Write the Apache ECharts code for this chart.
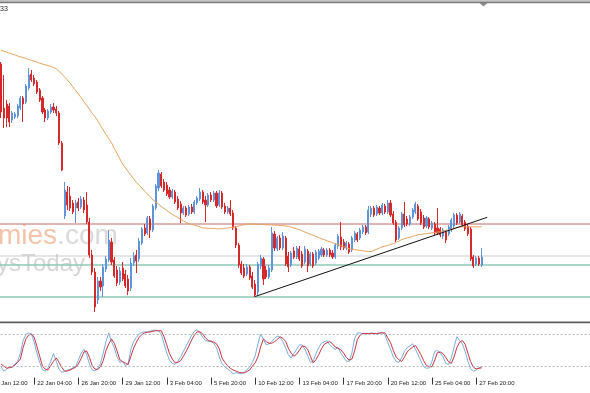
<!DOCTYPE html>
<html><head><meta charset="utf-8">
<script src="https://cdn.jsdelivr.net/npm/echarts@6/dist/echarts.min.js"></script>
<style>html,body{margin:0;padding:0;background:#fff}#c{width:590px;height:393px}</style>
</head><body><div id="c"></div>
<script>
// Tick labels every 16 H4 bars (first one is just off the left edge)
const tickLabels = ['19 Jan 12:00','22 Jan 04:00','26 Jan 20:00','29 Jan 12:00','3 Feb 04:00','5 Feb 20:00',
  '10 Feb 12:00','13 Feb 04:00','17 Feb 20:00','20 Feb 12:00','25 Feb 04:00','27 Feb 20:00'];

// H4 candles: [open, close, low, high]
const candles = [
[1.16900,1.15700,1.15550,1.16950],[1.15800,1.15550,1.15300,1.16625],[1.15900,1.15550,1.15325,1.16000],[1.15850,1.15450,1.15325,1.15925],
[1.15500,1.15675,1.15425,1.15725],[1.15575,1.15650,1.15525,1.15700],[1.15600,1.15850,1.15550,1.15900],[1.15800,1.16050,1.15750,1.16100],
[1.16050,1.15900,1.15450,1.16100],[1.15950,1.16350,1.15900,1.16400],[1.16300,1.16625,1.16250,1.16800],[1.16650,1.16500,1.16450,1.16750],
[1.16550,1.16400,1.16350,1.16625],[1.16450,1.16200,1.16150,1.16500],[1.16250,1.16000,1.15950,1.16300],[1.16050,1.15700,1.15650,1.16100],
[1.15750,1.15550,1.15450,1.15800],[1.15550,1.15725,1.15500,1.15775],[1.15700,1.15825,1.15650,1.15900],[1.15825,1.15750,1.15675,1.15925],
[1.15775,1.15675,1.15600,1.15850],[1.15675,1.14925,1.14875,1.15725],[1.14925,1.14250,1.14225,1.14975],[1.13100,1.13750,1.13025,1.13950],
[1.13700,1.13375,1.13250,1.13850],[1.13600,1.13300,1.13225,1.13825],[1.13425,1.13200,1.13150,1.13500],[1.13300,1.13425,1.12925,1.13500],
[1.13450,1.13300,1.13225,1.13550],[1.13325,1.13525,1.13275,1.13600],[1.13500,1.13250,1.13175,1.13575],[1.13375,1.12950,1.12900,1.13700],
[1.12950,1.12125,1.12050,1.13050],[1.12125,1.11700,1.11625,1.12250],[1.11700,1.10825,1.10700,1.11800],[1.11000,1.11475,1.10900,1.11575],
[1.11475,1.11325,1.11225,1.11575],[1.11350,1.11825,1.11075,1.11900],[1.11775,1.12025,1.11700,1.12100],[1.12000,1.12500,1.11950,1.12750],
[1.12450,1.11950,1.11875,1.12550],[1.12000,1.11600,1.11550,1.12075],[1.11750,1.11425,1.11350,1.11850],[1.11450,1.11725,1.11375,1.11825],
[1.11800,1.11525,1.11475,1.11950],[1.11650,1.11350,1.11300,1.11750],[1.11525,1.11225,1.11125,1.11625],[1.11300,1.11925,1.11225,1.12050],
[1.11925,1.12100,1.11850,1.12200],[1.12125,1.11975,1.11675,1.12250],[1.12025,1.12475,1.11950,1.12550],[1.12425,1.12775,1.12375,1.12825],
[1.12800,1.12650,1.12600,1.12900],[1.12675,1.13050,1.12625,1.13100],[1.13025,1.12750,1.12550,1.13100],[1.12750,1.13350,1.12700,1.13400],
[1.13300,1.13850,1.13250,1.13900],[1.13800,1.14175,1.13725,1.14250],[1.14150,1.13850,1.13800,1.14200],[1.13950,1.13750,1.13700,1.14025],
[1.13875,1.13650,1.13600,1.13950],[1.13750,1.13575,1.13525,1.13825],[1.13575,1.13725,1.13525,1.13775],[1.13700,1.13450,1.13400,1.13750],
[1.13525,1.13300,1.13250,1.13600],[1.13400,1.13175,1.12925,1.13475],[1.13175,1.13300,1.13125,1.13350],[1.13300,1.13125,1.13075,1.13350],
[1.13150,1.13325,1.13100,1.13375],[1.13325,1.13200,1.13150,1.13400],[1.13200,1.13450,1.13150,1.13500],[1.13425,1.13550,1.13375,1.13600],
[1.13525,1.13700,1.13475,1.13800],[1.13700,1.13450,1.13400,1.13750],[1.13500,1.13375,1.12950,1.13600],[1.13375,1.13625,1.13325,1.13675],
[1.13625,1.13500,1.13450,1.13700],[1.13500,1.13675,1.13450,1.13725],[1.13675,1.13350,1.13300,1.13725],[1.13375,1.13675,1.13325,1.13750],
[1.13675,1.13325,1.13275,1.13725],[1.13350,1.13200,1.13150,1.13425],[1.13200,1.13300,1.13150,1.13350],[1.13300,1.13150,1.13100,1.13500],
[1.13175,1.12800,1.12750,1.13250],[1.12800,1.12375,1.12300,1.12850],[1.12375,1.11875,1.11800,1.12425],[1.11900,1.11675,1.11625,1.11975],
[1.11800,1.11600,1.11550,1.11900],[1.11650,1.11825,1.11600,1.11900],[1.11825,1.11550,1.11500,1.11875],[1.11600,1.11325,1.11275,1.11700],
[1.11400,1.11125,1.11075,1.11500],[1.11200,1.11900,1.11125,1.11950],[1.11850,1.12050,1.11775,1.12125],[1.12025,1.11525,1.11375,1.12075],
[1.11750,1.11575,1.11525,1.11850],[1.11575,1.11800,1.11525,1.11875],[1.11750,1.12675,1.11700,1.12825],[1.12650,1.12300,1.12225,1.12725],
[1.12275,1.12550,1.12225,1.12600],[1.12550,1.12300,1.12250,1.12625],[1.12300,1.12600,1.12250,1.12700],[1.12550,1.11900,1.11850,1.12600],
[1.12100,1.11825,1.11700,1.12200],[1.11875,1.12175,1.11825,1.12225],[1.12225,1.12075,1.12025,1.12325],[1.12075,1.12300,1.12025,1.12350],
[1.12275,1.12025,1.11975,1.12350],[1.12150,1.11850,1.11800,1.12225],[1.11950,1.12275,1.11900,1.12350],[1.12225,1.11850,1.11700,1.12275],
[1.11900,1.12150,1.11850,1.12200],[1.12150,1.11850,1.11800,1.12200],[1.11925,1.12200,1.11875,1.12250],[1.12050,1.12225,1.12000,1.12275],
[1.12125,1.12275,1.12075,1.12325],[1.12250,1.12125,1.12075,1.12300],[1.12125,1.12250,1.12075,1.12300],[1.12250,1.12125,1.12075,1.12300],
[1.12175,1.12075,1.12025,1.12250],[1.12075,1.12375,1.12025,1.12425],[1.12350,1.12600,1.12275,1.12650],[1.12575,1.12325,1.12250,1.12950],
[1.12450,1.12300,1.12250,1.12525],[1.12300,1.12425,1.12250,1.12475],[1.12400,1.12200,1.12150,1.12450],[1.12250,1.12550,1.12200,1.12600],
[1.12500,1.12675,1.12450,1.12725],[1.12650,1.12500,1.12450,1.12700],[1.12550,1.12750,1.12500,1.12800],[1.12700,1.12825,1.12650,1.12875],
[1.12825,1.12675,1.12625,1.12875],[1.12700,1.13250,1.12650,1.13350],[1.13150,1.13300,1.13075,1.13350],[1.13300,1.13125,1.13075,1.13350],
[1.13150,1.13325,1.13100,1.13375],[1.13300,1.13175,1.13125,1.13350],[1.13175,1.13375,1.13125,1.13425],[1.13350,1.13200,1.13150,1.13400],
[1.13200,1.13425,1.13150,1.13500],[1.13425,1.13125,1.13075,1.13500],[1.13150,1.12925,1.12875,1.13225],[1.12950,1.12500,1.12450,1.13000],
[1.12550,1.12800,1.12500,1.12850],[1.12800,1.13150,1.12750,1.13200],[1.13150,1.12875,1.12825,1.13450],[1.13025,1.12900,1.12850,1.13100],
[1.12900,1.13075,1.12850,1.13125],[1.13075,1.13250,1.13025,1.13300],[1.13200,1.13400,1.13150,1.13450],[1.13350,1.13025,1.12975,1.13400],
[1.13200,1.12925,1.12875,1.13275],[1.13050,1.12825,1.12775,1.13125],[1.12850,1.13050,1.12800,1.13100],[1.13025,1.12825,1.12775,1.13075],
[1.12800,1.12925,1.12750,1.12975],[1.12900,1.12675,1.12625,1.12950],[1.12800,1.12675,1.12625,1.13300],[1.12775,1.12625,1.12575,1.12825],
[1.12600,1.12750,1.12525,1.12800],[1.12700,1.12500,1.12425,1.12750],[1.12650,1.12825,1.12600,1.12875],[1.12775,1.13000,1.12700,1.13050],
[1.12850,1.13125,1.12800,1.13175],[1.13125,1.12925,1.12875,1.13175],[1.12950,1.13150,1.12900,1.13200],[1.13100,1.12875,1.12825,1.13150],
[1.12950,1.12775,1.12725,1.13000],[1.12850,1.12650,1.12600,1.12900],[1.12775,1.12025,1.11975,1.12825],[1.12075,1.11850,1.11800,1.12125],
[1.11900,1.12050,1.11850,1.12100],[1.12050,1.11900,1.11850,1.12100],[1.11875,1.12075,1.11825,1.12300]
];

// Moving average (orange line), one value per bar
const maValues = [
1.1724,1.1722,1.1720,1.1717,1.1715,1.1713,1.1710,1.1708,1.1706,1.1704,
1.1701,1.1699,1.1697,1.1695,1.1692,1.1690,1.1688,1.1686,1.1684,1.1681,
1.1678,1.1672,1.1665,1.1658,1.1650,1.1642,1.1633,1.1624,1.1615,1.1606,
1.1596,1.1587,1.1577,1.1567,1.1558,1.1548,1.1536,1.1525,1.1514,1.1503,
1.1493,1.1479,1.1466,1.1453,1.1440,1.1430,1.1421,1.1412,1.1403,1.1394,
1.1387,1.1380,1.1372,1.1365,1.1358,1.1350,1.1345,1.1340,1.1334,1.1329,
1.1324,1.1319,1.1314,1.1310,1.1306,1.1302,1.1298,1.1294,1.1291,1.1289,
1.1287,1.1285,1.1283,1.1280,1.1280,1.1279,1.1279,1.1279,1.1278,1.1278,
1.1278,1.1279,1.1280,1.1281,1.1282,1.1283,1.1285,1.1287,1.1288,1.1290,
1.1290,1.1290,1.1289,1.1289,1.1289,1.1289,1.1288,1.1288,1.1288,1.1287,
1.1287,1.1286,1.1286,1.1285,1.1284,1.1282,1.1280,1.1278,1.1276,1.1273,
1.1270,1.1267,1.1264,1.1262,1.1259,1.1256,1.1253,1.1251,1.1248,1.1246,
1.1243,1.1241,1.1238,1.1236,1.1233,1.1231,1.1228,1.1227,1.1226,1.1225,
1.1224,1.1223,1.1222,1.1221,1.1221,1.1224,1.1227,1.1230,1.1233,1.1235,
1.1236,1.1239,1.1241,1.1244,1.1247,1.1251,1.1253,1.1255,1.1257,1.1259,
1.1261,1.1263,1.1264,1.1265,1.1266,1.1267,1.1268,1.1269,1.1270,1.1270,
1.1272,1.1274,1.1275,1.1277,1.1279,1.1281,1.1282,1.1283,1.1283,1.1283,
1.1283,1.1283,1.1283,1.1283,1.1283
];

// Stochastic oscillator
const stochK = [
20,12,15,20,18,25,30,45,68,79, 82,80,65,45,28,14,12,18,30,44,
30,15,10,11,14,15,18,20,32,45, 52,42,25,14,13,16,26,45,66,82,
66,55,38,28,30,22,25,52,66,74, 80,83,84,84,85,87,87,86,80,62,
45,32,26,24,30,38,48,58,68,78, 85,88,82,74,68,67,66,63,55,38,
25,20,16,12,7,9,8,7,10,14, 20,28,40,62,80,70,60,62,66,72,
76,74,66,55,42,36,44,52,60,60, 52,40,28,30,44,55,63,66,68,60,
55,52,55,45,38,30,30,45,72,82, 82,80,81,80,82,81,80,82,83,78,
64,52,38,30,28,36,48,55,58,62, 52,42,30,20,17,18,30,48,50,45,
38,26,24,36,56,75,68,62,48,30, 16,12,14,18,20
];
const stochD = [
25,21,17.5,18,19.5,23,28,34,55,71, 78,80,74,57,39,21,15.5,14,22,30,
36,28,18.5,12,12,14,16.5,19,25,35, 47,49,37,22,15.5,15,20,31,50,62,
71,63,49,33,29,26.5,24,39,54,65, 74,79,82,83,84,85,86,86,86,75,
60,44,34,27,28,31,39,48,58,69, 78,84,84,80,73,68,67,65,62,53,
36,28,22,17,14,12,10,9,8.5,11, 14,21,27,38,57,71,66,63,63,66,
70,75,72,67,54,45,39,43,50,58, 57,52,39,27,33,42,53,61,64,66,
62,56,54,51,45,37,32,34,49,70, 78,81,81,81,81,81,81,81.5,82,82,
73,64,50,38,33,29.5,37,47,52,56, 59,51,42,31,22,20,20,32,46,47,
44,37,29,26,38,55,65,68,61,45, 29,19,16,17,18
];
const stochLevels = [80, 20];

// Horizontal levels and trend line
const resistanceLevel = 1.12900;
const midLevel = 1.12100;
const supportLevels = [1.11875, 1.11075];
const trendLine = [[92, 1.110875], [176, 1.130675]];

const LEAD = 4;        // empty slots before first bar
const TOTAL = 219;     // slots incl. empty chart-shift area on the right
const cats = Array.from({length: TOTAL}, (_, k) => String(k));
const isTick = (idx) => idx % 16 === 0 && idx / 16 < tickLabels.length;

const candleData = candles.map((c, i) => [i + LEAD, c[0], c[1], c[2], c[3]]);
const maData = maValues.map((v, i) => [i + LEAD, v]);
const kData = stochK.map((v, i) => [i + LEAD, v]);
const dData = stochD.map((v, i) => [i + LEAD, v]);
const trendData = trendLine.map(p => [p[0] + LEAD, p[1]]);
const hLine = (v) => [[0, v], [TOTAL - 1, v]];

const BAND = 2.7625;
const GL = -11.4, GW = TOTAL * BAND;

const lvl = (v, color, width, z) => ({type: 'line', xAxisIndex: 0, yAxisIndex: 0, data: hLine(v), symbol: 'none',
  z: z, silent: true, lineStyle: {color: color, width: width}});

const chart = echarts.init(document.getElementById('c'));
chart.setOption({
  animation: false,
  backgroundColor: '#ffffff',
  grid: [
    {left: GL, width: GW, top: 3, height: 318, outerBoundsMode: 'none', containLabel: false},
    {left: GL, width: GW, top: 323.1, height: 54.5, outerBoundsMode: 'none', containLabel: false}
  ],
  xAxis: [
    {type: 'category', gridIndex: 0, data: cats, boundaryGap: true, show: false},
    {type: 'category', gridIndex: 1, data: cats, boundaryGap: true,
     axisLine: {show: false},
     axisTick: {show: true, interval: isTick, length: 7, alignWithLabel: true, lineStyle: {color: '#333', width: 1}},
     axisLabel: {show: true, interval: isTick, formatter: (v, idx) => tickLabels[idx / 16] || '',
       align: 'left', margin: 2.5, padding: [0, 0, 0, 3], fontSize: 6, color: '#222', fontFamily: 'Liberation Sans'},
     splitLine: {show: false}}
  ],
  yAxis: [
    {type: 'value', gridIndex: 0, min: 1.10475, max: 1.18425, show: false, splitLine: {show: false}},
    {type: 'value', gridIndex: 1, min: 0, max: 100, show: false, splitLine: {show: false}}
  ],
  series: [
    lvl(resistanceLevel, '#c46a6a', 1, 1),
    lvl(midLevel, '#cdcdcd', 1, 1),
    lvl(supportLevels[0], '#8fcab8', 1.5, 1),
    lvl(supportLevels[1], '#8fcab8', 1.5, 1),
    {type: 'candlestick', xAxisIndex: 0, yAxisIndex: 0, data: candleData,
     encode: {x: 0, y: [1, 2, 3, 4]}, barWidth: 1.6, z: 3,
     itemStyle: {color: '#5f93da', color0: '#d62a2a', borderColor: '#5f93da', borderColor0: '#d62a2a', borderWidth: 1}},
    {type: 'line', xAxisIndex: 0, yAxisIndex: 0, data: maData, symbol: 'none', z: 4,
     lineStyle: {color: '#e6a35e', width: 1}},
    {type: 'line', xAxisIndex: 0, yAxisIndex: 0, data: trendData, symbol: 'none', z: 5,
     lineStyle: {color: '#111111', width: 1}},
    {type: 'line', xAxisIndex: 1, yAxisIndex: 1, data: kData, symbol: 'none', z: 3,
     lineStyle: {color: '#7aaee0', width: 1},
     markLine: {silent: true, symbol: 'none', label: {show: false}, animation: false,
       data: stochLevels.map(v => ({yAxis: v, lineStyle: {color: '#b5b5b5', width: 1, type: [2, 2]}}))}},
    {type: 'line', xAxisIndex: 1, yAxisIndex: 1, data: dData, symbol: 'none', z: 4,
     lineStyle: {color: '#c83440', width: 1}}
  ],
  graphic: [
    {type: 'text', z: 0, x: -2, y: 250, silent: true,
     style: {text: '{o|mies}{g|.com}', textVerticalAlign: 'bottom',
       rich: {o: {fill: '#f4c4aa', fontSize: 28, fontFamily: 'Liberation Sans'},
              g: {fill: '#dadada', fontSize: 28, fontFamily: 'Liberation Sans'}}}},
    {type: 'text', z: 0, x: -3, y: 276, silent: true,
     style: {text: 'ysToday', fill: '#d6d6d6', fontSize: 24, fontFamily: 'Liberation Sans', textVerticalAlign: 'bottom'}},
    {type: 'rect', z: 100, shape: {x: 0, y: 0, width: 590, height: 1.6}, style: {fill: '#c4c4c4'}},
    {type: 'rect', z: 100, shape: {x: 0, y: 1.6, width: 590, height: 1.6}, style: {fill: '#7c7c7c'}},
    {type: 'polygon', z: 100, shape: {points: [[479.5, 3], [487.5, 3], [483.5, 6.5]]}, style: {fill: '#8a8a8a'}},
    {type: 'rect', z: 100, shape: {x: 0, y: 321.4, width: 590, height: 1.8}, style: {fill: '#5e5e5e'}},
    {type: 'text', z: 100, x: 0, y: 9, style: {text: '33', fill: '#222', fontSize: 7, fontFamily: 'Liberation Sans', textVerticalAlign: 'middle'}}
  ]
});
</script></body></html>
